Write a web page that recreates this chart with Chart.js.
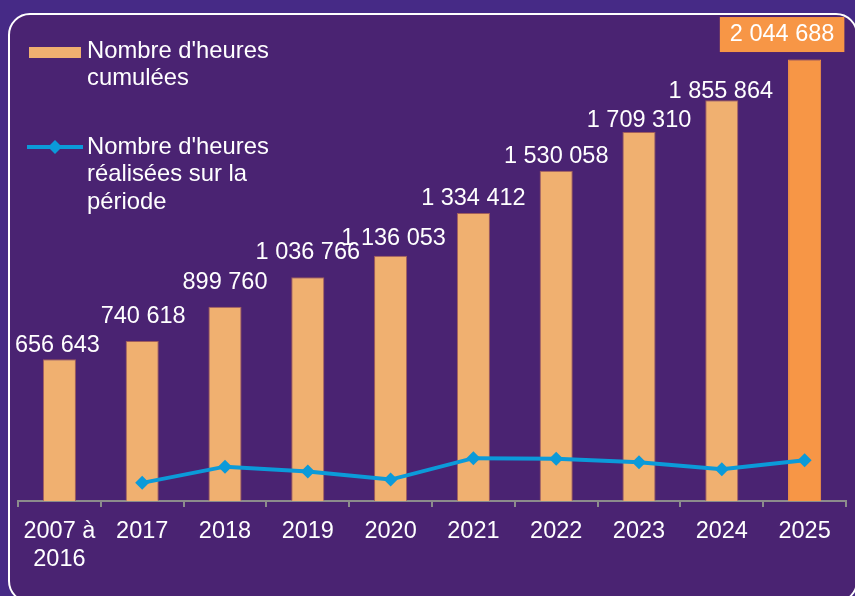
<!DOCTYPE html>
<html>
<head>
<meta charset="utf-8">
<script src="https://cdn.jsdelivr.net/npm/chart.js@4.4.1/dist/chart.umd.min.js"></script>
<style>
  html, body { margin:0; padding:0; width:855px; height:596px; overflow:hidden; background:#462a86; }
  #panel { position:absolute; left:8px; top:13px; width:850px; height:590px; box-sizing:border-box;
           border:2px solid #ffffff; border-radius:22px; background:#4a2372; }
  #c { position:absolute; left:0; top:0; }
</style>
</head>
<body>
<div id="panel"></div>
<canvas id="c" width="855" height="596"></canvas>
<script>
// ---- data ----
const categories = [['2007 à','2016'], '2017', '2018', '2019', '2020', '2021', '2022', '2023', '2024', '2025'];
const cumulatedHours = [656643, 740618, 899760, 1036766, 1136053, 1334412, 1530058, 1709310, 1855864, 2044688];
const periodHours = [null, 83975, 159142, 137006, 99287, 198359, 195646, 179252, 146554, 188824];
const seriesNames = ["Nombre d'heures cumulées", "Nombre d'heures réalisées sur la période"];
const legendLines = [["Nombre d'heures", "cumulées"], ["Nombre d'heures", "réalisées sur la", "période"]];

// ---- style ----
const FONT = "'Liberation Sans', Arial, sans-serif";
const barColor = '#f0b070';
const lastBarColor = '#f79646';
const lineColor = '#0b9ad9';
// label offsets relative to bar top centre: [dx, dy]
const labelShift = [[-2,14],[1,25],[0,24],[0,25],[3,17],[0,14],[0,14],[0,11],[-1,9],[-22.5,25]];

function fmt(v) { return String(v).replace(/\B(?=(\d{3})+(?!\d))/g, ' '); }

const barLabels = {
  id: 'barLabels',
  afterDatasetsDraw(chart) {
    const meta = chart.getDatasetMeta(1);
    const ctx = chart.ctx;
    ctx.save();
    ctx.font = '23.5px ' + FONT;
    ctx.textAlign = 'center';
    ctx.textBaseline = 'middle';
    meta.data.forEach((el, i) => {
      const x = el.x + labelShift[i][0];
      const y = el.y - labelShift[i][1];
      const txt = fmt(cumulatedHours[i]);
      if (i === cumulatedHours.length - 1) {
        const w = ctx.measureText(txt).width + 20;
        ctx.fillStyle = lastBarColor;
        ctx.fillRect(x - w/2, y - 17.5, w, 35);
      }
      ctx.fillStyle = '#ffffff';
      ctx.fillText(txt, x, y);
    });
    ctx.restore();
  }
};

const customLegend = {
  id: 'customLegend',
  afterDraw(chart) {
    const ctx = chart.ctx;
    ctx.save();
    ctx.font = '23.8px ' + FONT;
    ctx.textAlign = 'left';
    ctx.textBaseline = 'middle';
    // bar entry
    ctx.fillStyle = barColor;
    ctx.fillRect(29, 47, 52, 11);
    ctx.fillStyle = '#ffffff';
    legendLines[0].forEach((t, k) => ctx.fillText(t, 87, 51 + k * 27.5));
    // line entry
    ctx.strokeStyle = lineColor;
    ctx.lineWidth = 4;
    ctx.beginPath(); ctx.moveTo(27, 147); ctx.lineTo(83, 147); ctx.stroke();
    ctx.fillStyle = lineColor;
    ctx.beginPath(); ctx.moveTo(55, 140); ctx.lineTo(62, 147); ctx.lineTo(55, 154); ctx.lineTo(48, 147); ctx.closePath(); ctx.fill();
    ctx.fillStyle = '#ffffff';
    legendLines[1].forEach((t, k) => ctx.fillText(t, 87, 147 + k * 27.5));
    ctx.restore();
  }
};

new Chart(document.getElementById('c'), {
  data: {
    labels: categories,
    datasets: [
      {
        type: 'line',
        label: seriesNames[1],
        data: periodHours,
        borderColor: lineColor,
        backgroundColor: lineColor,
        borderWidth: 4,
        pointStyle: 'rectRot',
        pointRadius: 7,
        pointHoverRadius: 7,
        pointBorderWidth: 0,
        tension: 0,
        order: 0
      },
      {
        type: 'bar',
        label: seriesNames[0],
        data: cumulatedHours,
        backgroundColor: cumulatedHours.map((v, i) => i === cumulatedHours.length - 1 ? lastBarColor : barColor),
        borderColor: cumulatedHours.map((v, i) => i === cumulatedHours.length - 1 ? lastBarColor : 'rgba(170,100,90,0.9)'),
        borderWidth: 1,
        categoryPercentage: 0.8,
        barPercentage: 0.5,
        order: 1
      }
    ]
  },
  options: {
    responsive: false,
    animation: false,
    devicePixelRatio: 1,
    layout: { padding: { left: 18, right: 9, top: 26, bottom: 0 } },
    plugins: { legend: { display: false }, tooltip: { enabled: false } },
    scales: {
      x: {
        afterFit(scale) { scale.height = 95; },
        grid: { display: true, drawOnChartArea: false, drawTicks: true, tickLength: 6, color: '#8c8c8c', lineWidth: 2, offset: true },
        border: { display: true, color: '#8c8c8c', width: 2 },
        ticks: { color: '#ffffff', font: { family: FONT, size: 23.5, lineHeight: 1.2 }, padding: 10, maxRotation: 0, autoSkip: false }
      },
      y: { display: false, min: 0, max: 2200000 }
    }
  },
  plugins: [barLabels, customLegend]
});
</script>
</body>
</html>
